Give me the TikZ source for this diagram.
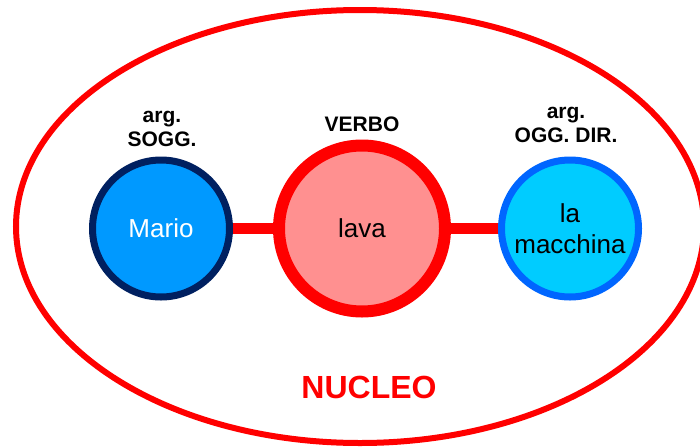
\documentclass[tikz,border=0pt]{standalone}
\usepackage{fontspec}
\setmainfont{Liberation Sans}
\usetikzlibrary{backgrounds}
\definecolor{nucred}{HTML}{FF0000}
\definecolor{marioblue}{HTML}{0099FF}
\definecolor{marioedge}{HTML}{002060}
\definecolor{lavafill}{HTML}{FF9090}
\definecolor{machfill}{HTML}{00CCFF}
\definecolor{machedge}{HTML}{0066FF}
\tikzset{
  argnode/.style={circle, inner sep=0pt, align=center, font=\fontsize{26}{31}\selectfont},
  toplabel/.style={align=center, inner sep=0pt, font=\bfseries\fontsize{21}{24}\selectfont, anchor=base},
  link/.style={draw=nucred, line width=11pt}
}
\begin{document}
\begin{tikzpicture}[x=1pt,y=-1pt]
\useasboundingbox (0,0) rectangle (700,447);
\clip (0,0) rectangle (700,447);
\draw[nucred, line width=6pt] (360,226.5) ellipse [x radius=344, y radius=216.5];
\node[argnode, minimum size=137pt, line width=7pt, draw=marioedge, fill=marioblue, text=white] (mario) at (161,228.5) {Mario};
\node[argnode, minimum size=166pt, line width=12pt, draw=nucred, fill=lavafill] (lava) at (362,228.5) {lava};
\node[argnode, minimum size=137pt, line width=7pt, draw=machedge, fill=machfill] (macch) at (570,228.5) {la\\macchina};
\begin{scope}[on background layer]
\draw[link] (mario.center) -- (lava.center);
\draw[link] (lava.center) -- (macch.center);
\end{scope}
\node[toplabel] (lsogg) at (162,146) {arg.\\SOGG.};
\node[toplabel] (lverbo) at (362,131) {VERBO};
\node[toplabel] (logg) at (566,142) {arg.\\OGG. DIR.};
\node[anchor=base, inner sep=0pt, text=nucred, font=\bfseries\fontsize{32}{36}\selectfont] (nucleo) at (369,398) {NUCLEO};
\end{tikzpicture}
\end{document}
